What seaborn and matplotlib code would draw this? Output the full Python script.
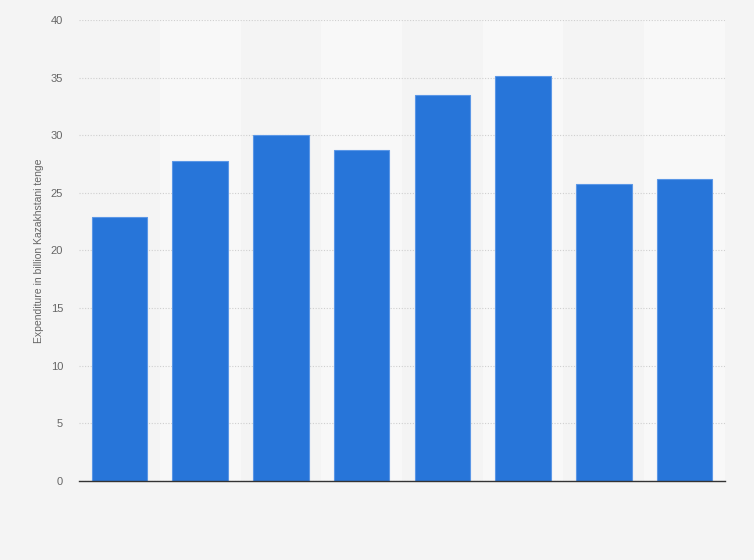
import pandas as pd
import matplotlib.pyplot as plt
import seaborn as sns

# data (x labels are not shown in it)
categories = ['2012', '2013', '2014', '2015', '2016', '2017', '2018', '2019']
values = [22.9, 27.8, 30.0, 28.7, 33.5, 35.1, 25.8, 26.2]
y_ticks = [0, 5, 10, 15, 20, 25, 30, 35, 40]
y_label = 'Expenditure in billion Kazakhstani tenge'

BAR_COLOR = '#2775d9'
BG = '#f4f4f4'

df = pd.DataFrame({'year': categories, 'value': values})

sns.set_style('white')
plt.rcParams['font.family'] = ['Liberation Sans', 'DejaVu Sans']

fig = plt.figure(figsize=(7.54, 5.6), dpi=100, facecolor=BG)
ax = fig.add_axes([0.1048, 0.1411, 0.8567, 0.8232])
ax.set_facecolor(BG)

# alternating column bands
for i in range(len(categories)):
    if i % 2 == 1:
        ax.axvspan(i - 0.5, i + 0.5, color='#f8f8f8', zorder=0, lw=0)

sns.barplot(data=df, x='year', y='value', color=BAR_COLOR, width=0.69,
            saturation=1, edgecolor='#5b97e6', linewidth=0.8, ax=ax, zorder=3)

ax.set_xlim(-0.5, len(categories) - 0.5)
ax.set_ylim(0, 40)
ax.set_yticks(y_ticks)
ax.set_yticklabels([str(t) for t in y_ticks], color='#666666', fontsize=8)
ax.set_xticks([])
ax.set_xlabel('')
ax.set_ylabel(y_label, color='#666666', fontsize=7.5, labelpad=5)
ax.tick_params(axis='y', length=0, pad=11.5)

ax.yaxis.grid(True, color='#cfcfcf', linestyle=(0, (1, 1.5)), linewidth=0.8, zorder=1)
ax.set_axisbelow(True)
for side in ['top', 'right', 'left']:
    ax.spines[side].set_visible(False)
ax.spines['bottom'].set_color('#333333')
ax.spines['bottom'].set_linewidth(1.0)
ax.spines['bottom'].set_zorder(5)

plt.savefig('out.png', dpi=100, facecolor=BG)
